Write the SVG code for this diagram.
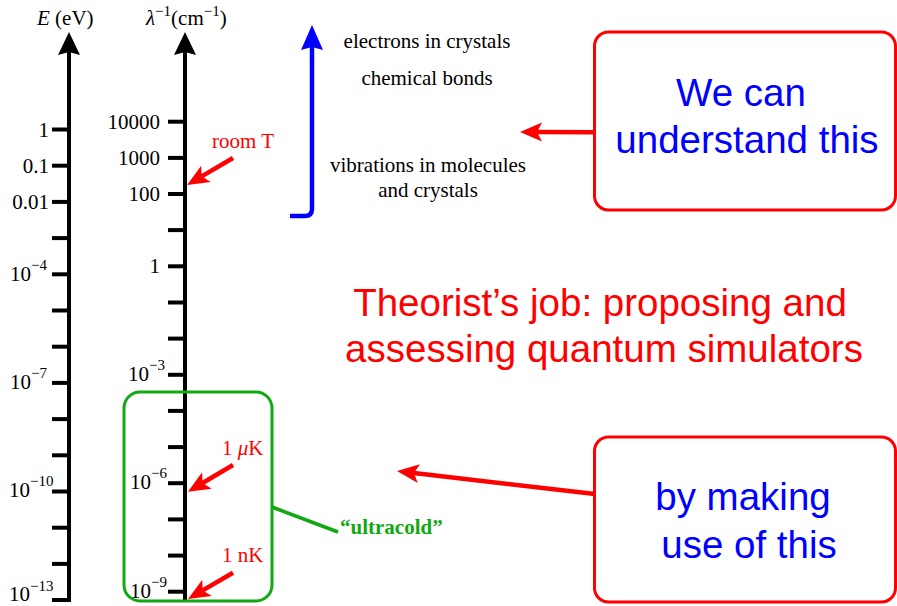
<svg xmlns="http://www.w3.org/2000/svg" width="897" height="606" viewBox="0 0 897 606">
<style>
.serif{font-family:"Liberation Serif","Times New Roman",serif;font-size:21px;fill:#000}
.sup{font-size:15px}
.sans{font-family:"Liberation Sans",Arial,sans-serif;font-size:38.5px}
.axis{stroke:#000;stroke-width:4;fill:none}
.tick{stroke:#000;stroke-width:4}
.red{fill:#ff0000}
.blue{fill:#0000ff}
.green{fill:#12a812}
.redline{stroke:#ff0000;stroke-width:4.5;fill:none}
.box{fill:#fff;stroke:#ff0000;stroke-width:3}
</style>
<defs>
<marker id="blackhead" markerUnits="userSpaceOnUse" markerWidth="30" markerHeight="30" refX="3" refY="0" orient="auto" overflow="visible"><path d="M0,-11 L23,0 L0,11 L3,0 Z" fill="#000"/></marker>
<marker id="bluehead" markerUnits="userSpaceOnUse" markerWidth="30" markerHeight="30" refX="3" refY="0" orient="auto" overflow="visible"><path d="M0,-11 L25,0 L0,11 L3,0 Z" fill="#0000ff"/></marker>
<marker id="redhead" markerUnits="userSpaceOnUse" markerWidth="30" markerHeight="30" refX="5" refY="0" orient="auto" overflow="visible"><path d="M0,-9.5 L22,0 L0,9.5 L5,0 Z" fill="#ff0000"/></marker>
</defs>

<g id="axis-E">
<line class="axis" x1="69" y1="602" x2="69" y2="52" marker-end="url(#blackhead)"/>
<g class="tick">
<line x1="52" y1="129.5" x2="69" y2="129.5"/><line x1="52" y1="165.7" x2="69" y2="165.7"/><line x1="52" y1="201.9" x2="69" y2="201.9"/><line x1="52" y1="238.1" x2="69" y2="238.1"/><line x1="52" y1="274.3" x2="69" y2="274.3"/><line x1="52" y1="310.5" x2="69" y2="310.5"/><line x1="52" y1="346.7" x2="69" y2="346.7"/><line x1="52" y1="382.9" x2="69" y2="382.9"/><line x1="52" y1="419.1" x2="69" y2="419.1"/><line x1="52" y1="455.3" x2="69" y2="455.3"/><line x1="52" y1="491.5" x2="69" y2="491.5"/><line x1="52" y1="527.7" x2="69" y2="527.7"/><line x1="52" y1="563.9" x2="69" y2="563.9"/><line x1="52" y1="600" x2="71" y2="600"/>
</g>
<text class="serif" x="37" y="25"><tspan font-style="italic">E</tspan> (eV)</text>
<text class="serif" x="49" y="137" text-anchor="end">1</text>
<text class="serif" x="49" y="173" text-anchor="end">0.1</text>
<text class="serif" x="49" y="209" text-anchor="end">0.01</text>
<text class="serif" x="10" y="281">10<tspan class="sup" dy="-11">−4</tspan></text>
<text class="serif" x="10" y="389">10<tspan class="sup" dy="-11">−7</tspan></text>
<text class="serif" x="9" y="497">10<tspan class="sup" dy="-11">−10</tspan></text>
<text class="serif" x="9" y="601">10<tspan class="sup" dy="-10">−13</tspan></text>
</g>

<g id="axis-lambda">
<line class="axis" x1="185" y1="601" x2="185" y2="52" marker-end="url(#blackhead)"/>
<g class="tick">
<line x1="168" y1="121.7" x2="185" y2="121.7"/><line x1="168" y1="157.9" x2="185" y2="157.9"/><line x1="168" y1="194" x2="185" y2="194"/><line x1="168" y1="230.1" x2="185" y2="230.1"/><line x1="168" y1="266.3" x2="185" y2="266.3"/><line x1="168" y1="302.5" x2="185" y2="302.5"/><line x1="168" y1="338.6" x2="185" y2="338.6"/><line x1="168" y1="374.8" x2="185" y2="374.8"/><line x1="168" y1="410.9" x2="185" y2="410.9"/><line x1="168" y1="447.1" x2="185" y2="447.1"/><line x1="168" y1="483.2" x2="185" y2="483.2"/><line x1="168" y1="519.4" x2="185" y2="519.4"/><line x1="168" y1="555.6" x2="185" y2="555.6"/><line x1="168" y1="591.7" x2="185" y2="591.7"/>
</g>
<text class="serif" x="146" y="25"><tspan font-style="italic">λ</tspan><tspan class="sup" dy="-9">−1</tspan><tspan dy="9">(cm</tspan><tspan class="sup" dy="-9">−1</tspan><tspan dy="9">)</tspan></text>
<text class="serif" x="160" y="128.5" text-anchor="end">10000</text>
<text class="serif" x="160" y="164.5" text-anchor="end">1000</text>
<text class="serif" x="160" y="200.5" text-anchor="end">100</text>
<text class="serif" x="160" y="273" text-anchor="end">1</text>
<text class="serif" x="128" y="380.5">10<tspan class="sup" dy="-11">−3</tspan></text>
<text class="serif" x="130" y="489">10<tspan class="sup" dy="-11">−6</tspan></text>
<text class="serif" x="130" y="597.5">10<tspan class="sup" dy="-11">−9</tspan></text>
</g>

<g id="energy-scale">
<path d="M290,216 L305,216 Q312,216 312,209 L312,47" stroke="#0000ff" stroke-width="4.5" fill="none" marker-end="url(#bluehead)"/>
<text class="serif" x="427" y="48" text-anchor="middle">electrons in crystals</text>
<text class="serif" x="427" y="85" text-anchor="middle">chemical bonds</text>
<text class="serif" x="428" y="172" text-anchor="middle">vibrations in molecules</text>
<text class="serif" x="428" y="197" text-anchor="middle">and crystals</text>
</g>

<g id="label-roomT"><text class="serif red" x="212" y="148">room T</text></g>
<g id="label-1uK"><text class="serif red" x="222" y="455">1 <tspan font-style="italic">μ</tspan>K</text></g>
<g id="label-1nK"><text class="serif red" x="222" y="562">1 nK</text></g>

<g id="ultracold-box">
<rect x="124" y="392" width="148" height="209" rx="16" fill="none" stroke="#12a812" stroke-width="3"/>
<text class="serif green" x="340" y="534" font-weight="bold">“ultracold”</text>
</g>

<g id="box-understand">
<rect class="box" x="594.5" y="32" width="301" height="178" rx="14"/>
<text class="sans blue" x="741" y="106" text-anchor="middle">We can</text>
<text class="sans blue" x="747" y="153" text-anchor="middle">understand this</text>
</g>

<g id="box-makeuse">
<rect class="box" x="594.5" y="437" width="301" height="165" rx="14"/>
<text class="sans blue" x="743" y="510" text-anchor="middle">by making</text>
<text class="sans blue" x="749" y="558" text-anchor="middle">use of this</text>
</g>

<g id="theorist-text">
<text class="sans red" x="600" y="316" text-anchor="middle">Theorist’s job: proposing and</text>
<text class="sans red" x="604" y="362" text-anchor="middle">assessing quantum simulators</text>
</g>

<g id="connectors">
<line class="redline" x1="594" y1="132.3" x2="537" y2="132" marker-end="url(#redhead)"/>
<line class="redline" x1="595" y1="494" x2="413.9" y2="473" marker-end="url(#redhead)"/>
<line class="redline" x1="233" y1="158" x2="201.7" y2="176.4" marker-end="url(#redhead)"/>
<line class="redline" x1="233" y1="465" x2="202.6" y2="483" marker-end="url(#redhead)"/>
<line class="redline" x1="233" y1="572.7" x2="202.7" y2="590.4" marker-end="url(#redhead)"/>
<line x1="272" y1="507" x2="338" y2="532" stroke="#12a812" stroke-width="3.5"/>
</g>
</svg>
